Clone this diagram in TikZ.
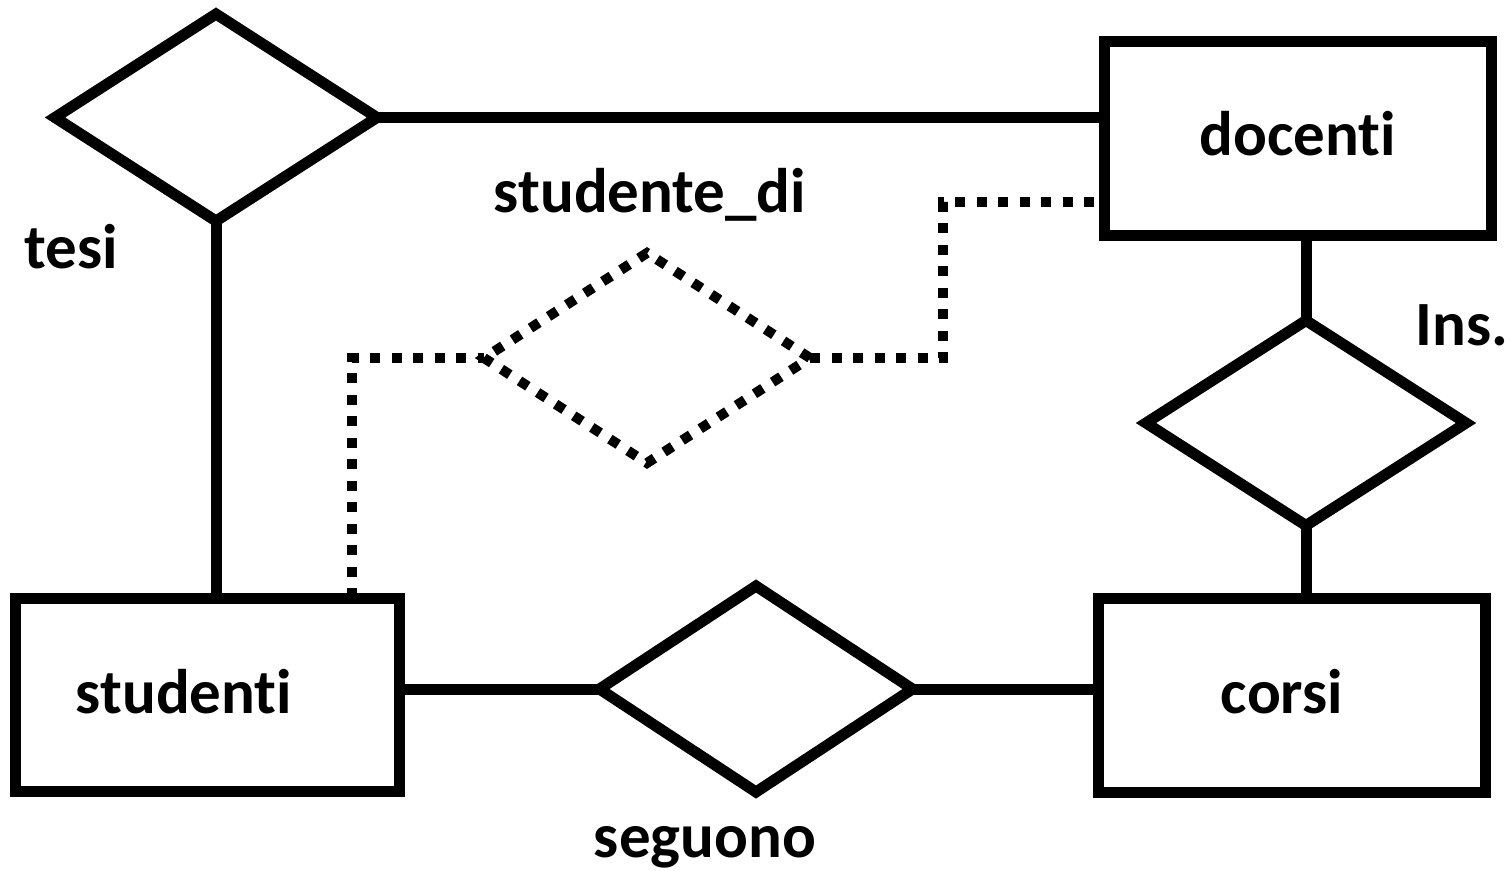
\documentclass[tikz,border=0pt]{standalone}
\usepackage{fontspec}
\setmainfont{Carlito}[Ligatures={NoCommon}]
\usetikzlibrary{shapes.geometric}
\begin{document}
\begin{tikzpicture}[x=1pt,y=-1pt,
  entity/.style={draw,line width=11pt,rectangle,inner sep=0pt,outer sep=0pt},
  rel/.style={draw,line width=11pt,diamond,inner sep=0pt,outer sep=0pt},
  weakrel/.style={draw,line width=10pt,diamond,inner sep=0pt,outer sep=0pt,dash pattern=on 10pt off 11.5pt},
  conn/.style={line width=11pt},
  dotconn/.style={line width=10pt,dash pattern=on 10pt off 11.5pt},
  lbl/.style={font=\bfseries\fontsize{63}{63}\selectfont,inner sep=0pt,anchor=base}]
\useasboundingbox (0,0) rectangle (1512,870);
% entities
\node[entity,minimum width=387pt,minimum height=194pt] (docenti) at (1297.5,138.5) {};
\node[entity,minimum width=384pt,minimum height=193pt] (studenti) at (207,694.5) {};
\node[entity,minimum width=387pt,minimum height=194pt] (corsi) at (1291.5,695) {};
% relationships
\node[rel,minimum width=322pt,minimum height=207pt] (tesi) at (216,117.5) {};
\node[rel,minimum width=320pt,minimum height=205pt] (ins) at (1306,423) {};
\node[rel,minimum width=313pt,minimum height=206pt] (seguono) at (756,689) {};
\node[weakrel,minimum width=326pt,minimum height=210pt] (sd) at (647,358) {};
% labels
\node[lbl] (docentiT) at (1298,155) {docenti};
\node[lbl] (studentiT) at (184,713) {studenti};
\node[lbl] (corsiT) at (1282,713) {corsi};
\node[lbl] (tesiT) at (71,268) {tesi};
\node[lbl] (insT) at (1462,345) {Ins.};
\node[lbl] (sdT) at (650,212) {studente\_di};
\node[lbl] (seguonoT) at (705,857) {seguono};
% connectors
\draw[conn] (tesi.east) -- (docenti.west |- tesi.east);
\draw[conn] (tesi.south) -- (studenti.north -| tesi.south);
\draw[conn] (docenti.south -| ins.north) -- (ins.north);
\draw[conn] (ins.south) -- (corsi.north -| ins.south);
\draw[conn] (studenti.east |- seguono.west) -- (seguono.west);
\draw[conn] (seguono.east) -- (corsi.west |- seguono.east);
\coordinate (c1) at (352,358);
\coordinate (c2) at (943,202);
\draw[dotconn] (studenti.north -| c1) |- (sd.west);
\draw[dotconn] (sd.east) -| (c2) -- (docenti.west |- c2);
\end{tikzpicture}
\end{document}
